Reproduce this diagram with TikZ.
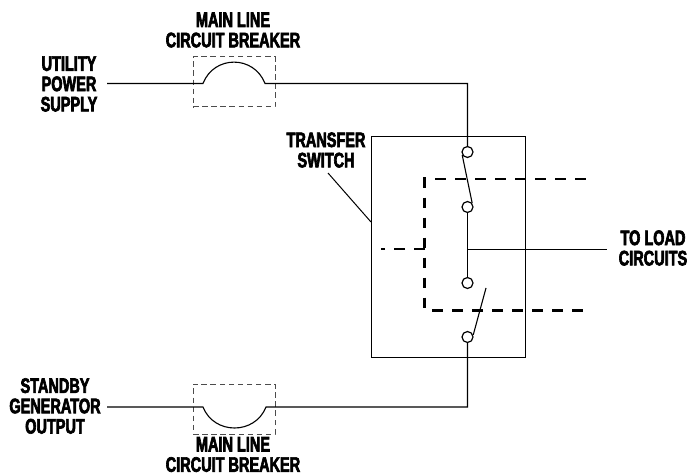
\documentclass[tikz,border=0pt]{standalone}
\usepackage{fontspec}
\setmainfont{Liberation Sans}[BoldFeatures={FakeStretch=0.69,FakeBold=3}]
\usetikzlibrary{positioning}
\tikzset{
  wire/.style={line width=1.1pt,black},
  contact/.style={circle,draw,line width=1.2pt,fill=white,inner sep=0pt,minimum size=11pt},
  breakerbox/.style={draw=black!70,line width=1pt,dash pattern=on 5.5pt off 3.6pt,inner sep=0pt,minimum width=82pt,minimum height=50pt},
  linkage/.style={line width=2.8pt,black,dash pattern=on 10.7pt off 9.3pt},
  lbl/.style={align=center,font=\fontsize{21}{20.3}\selectfont\bfseries,inner sep=0pt}
}
\begin{document}
\begin{tikzpicture}[x=1pt,y=-1pt]
  \useasboundingbox (0,0) rectangle (691,476);

  % Breakers
  \node[breakerbox] (topbox) at (234,82) {};
  \node[breakerbox] (botbox) at (234,409) {};

  % Transfer switch housing
  \node[draw,line width=1.1pt,inner sep=0pt,minimum width=154pt,minimum height=221pt] (switchbox) at (448.5,247) {};

  % Wire ends and junctions
  \coordinate (utilend) at (107,83.5);
  \coordinate (topa) at (203,83.5);
  \coordinate (topb) at (265,83.5);
  \coordinate (topcorner) at (467.5,83.5);
  \coordinate (genend) at (107,407);
  \coordinate (bota) at (203,407);
  \coordinate (botb) at (266,407);
  \coordinate (botcorner) at (467.5,407);
  \coordinate (loadtap) at (467.5,249.5);
  \coordinate (loadend) at (607,249.5);
  \coordinate (armfree) at (486,288);

  % Contacts
  \foreach \name/\y in {conta/152, contb/207, contc/283, contd/337} {
    \node[contact] (\name) at (467.5,\y) {};
  }

  % Wiring
  \draw[wire] (utilend) -- (topa) .. controls (214,55) and (254,55) .. (topb) -- (topcorner) -- (conta);
  \draw[wire] (genend) -- (bota) .. controls (214,435) and (255,435) .. (botb) -- (botcorner) -- (contd);
  \draw[wire] (contb) -- (contc);
  \draw[wire] (loadtap) -- (loadend);
  \draw[wire] (conta.210) -- (contb.40);
  \draw[wire] (contd.20) -- (armfree);

  % Mechanical linkage
  \coordinate (linktop) at (424.5,177.5);
  \coordinate (linkbot) at (424.5,310);
  \coordinate (linkmid) at (425,249);
  \coordinate (linkleft) at (381,249);
  \coordinate (topstart) at (435,179);
  \coordinate (topstop) at (587,179);
  \coordinate (botstart) at (432,310.5);
  \coordinate (botstop) at (584,310.5);
  \draw[linkage] (linktop) -- (linkbot);
  \draw[linkage] (topstart) -- (topstop);
  \draw[linkage] (botstart) -- (botstop);
  \draw[linkage] (linkmid) -- (linkleft);

  % Labels
  \node[lbl] (utillbl) at (69,84) {UTILITY\\POWER\\SUPPLY};
  \node[lbl] (genlbl) at (55,406) {STANDBY\\GENERATOR\\OUTPUT};
  \node[lbl] (topname) at (233,30) {MAIN LINE\\CIRCUIT BREAKER};
  \node[lbl] (botname) at (233,454.5) {MAIN LINE\\CIRCUIT BREAKER};
  \node[lbl] (switchname) at (326,150) {TRANSFER\\SWITCH};
  \node[lbl] (loadname) at (653,248) {TO LOAD\\CIRCUITS};

  % Leader
  \coordinate (leadstart) at (328,173);
  \coordinate (leadend) at (371,222);
  \draw[line width=1pt] (leadstart) -- (leadend);
\end{tikzpicture}
\end{document}
